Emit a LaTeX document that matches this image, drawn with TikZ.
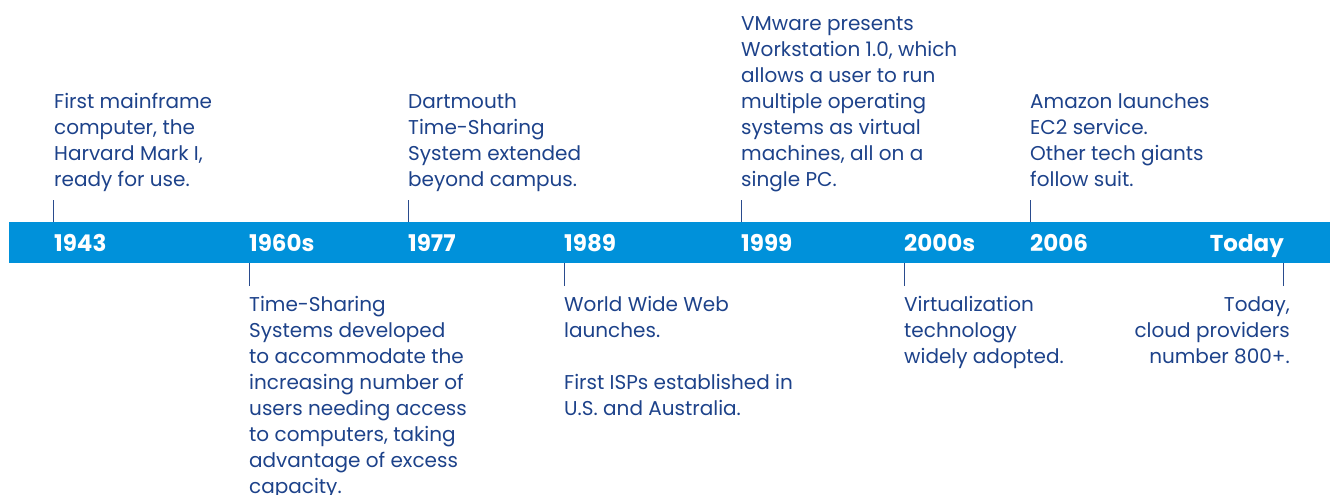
\documentclass[tikz,border=0pt]{standalone}
\usepackage{fontspec}
\setmainfont{Poppins}
\usetikzlibrary{positioning}
\definecolor{bandblue}{HTML}{0091DA}
\definecolor{textblue}{HTML}{1D428A}
\definecolor{tickblue}{HTML}{2A4B8D}
\tikzset{
    event/.style={align=left, inner sep=0pt, text=textblue, font=\fontsize{20}{26}\selectfont},
    year/.style={inner sep=0pt, text=white, font=\fontsize{23}{26}\selectfont\bfseries},
    tick/.style={draw=tickblue, line width=1pt}
}

\begin{document}
\begin{tikzpicture}[x=1pt, y=-1pt]
    \useasboundingbox (0,0) rectangle (1330,495);
    % the band
    \fill[bandblue] (9,222) rectangle (1330,263);

    % years on the band
    \node[year, anchor=base west] (y1943) at (54,251) {1943};
    \node[year, anchor=base west] (y1960) at (249,251) {1960s};
    \node[year, anchor=base west] (y1977) at (408,251) {1977};
    \node[year, anchor=base west] (y1989) at (564,251) {1989};
    \node[year, anchor=base west] (y1999) at (741,251) {1999};
    \node[year, anchor=base west] (y2000) at (904,251) {2000s};
    \node[year, anchor=base west] (y2006) at (1030,251) {2006};
    \node[year, anchor=base east] (ytoday) at (1284,251) {Today};

    % events above (base = last line)
    \node[event, anchor=base west] (e1943) at (54,186)
        {First mainframe\\computer, the\\Harvard Mark I,\\ready for use.};
    \node[event, anchor=base west] (e1977) at (408,186)
        {Dartmouth\\Time-Sharing\\System extended\\beyond campus.};
    \node[event, anchor=base west] (e1999) at (741,186)
        {VMware presents\\Workstation 1.0, which\\allows a user to run\\multiple operating\\systems as virtual\\machines, all on a\\single PC.};
    \node[event, anchor=base west] (e2006) at (1030,186)
        {Amazon launches\\EC2 service.\\Other tech giants\\follow suit.};

    % events below (base = last line)
    \node[event, anchor=base west] (e1960) at (249,493)
        {Time-Sharing\\Systems developed\\to accommodate the\\increasing number of\\users needing access\\to computers, taking\\advantage of excess\\capacity.};
    \node[event, anchor=base west] (e1989) at (564,415)
        {World Wide Web\\launches.\\[26pt]First ISPs established in\\U.S. and Australia.};
    \node[event, anchor=base west] (e2000) at (904,363)
        {Virtualization\\technology\\widely adopted.};
    \node[event, anchor=base east, align=right] (etoday) at (1290,363)
        {Today,\\cloud providers\\number 800+.};

    % ticks
    \coordinate (t1943) at (53,200);
    \coordinate (t1977) at (408,200);
    \coordinate (t1999) at (741,200);
    \coordinate (t2006) at (1030,200);
    \coordinate (t1960) at (249,286);
    \coordinate (t1989) at (564,286);
    \coordinate (t2000) at (904,286);
    \coordinate (ttoday) at (1283,286);
    \draw[tick] (t1943) -- (t1943 |- 0,222);
    \draw[tick] (t1977) -- (t1977 |- 0,222);
    \draw[tick] (t1999) -- (t1999 |- 0,222);
    \draw[tick] (t2006) -- (t2006 |- 0,222);
    \draw[tick] (t1960) -- (t1960 |- 0,263);
    \draw[tick] (t1989) -- (t1989 |- 0,263);
    \draw[tick] (t2000) -- (t2000 |- 0,263);
    \draw[tick] (ttoday) -- (ttoday |- 0,263);
\end{tikzpicture}
\end{document}
